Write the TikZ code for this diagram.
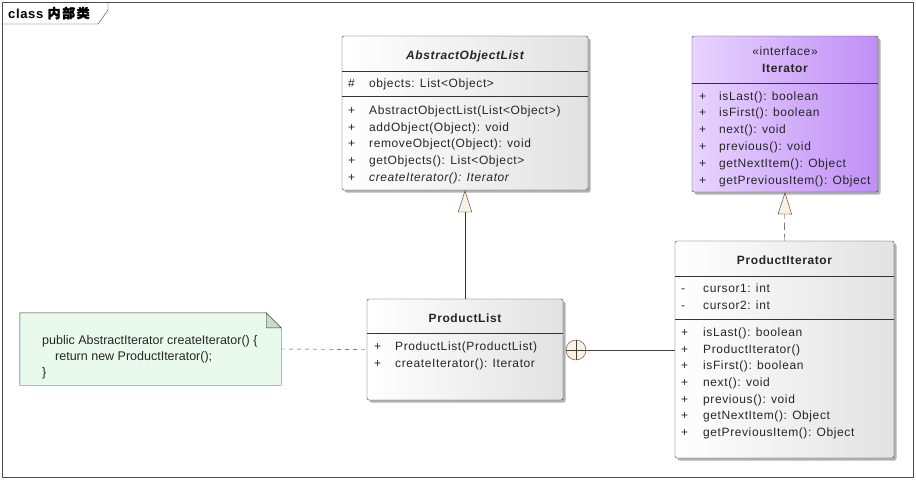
\documentclass[tikz,border=0pt]{standalone}
\usepackage{fontspec}
\setmainfont{Liberation Sans}
\newfontfamily\umlfont{Liberation Sans}[LetterSpace=5]
\newfontfamily\cjk{Noto Sans CJK SC}[FakeBold=1.5,LetterSpace=12]
\usetikzlibrary{arrows.meta,shadows}

\definecolor{boxgrey}{RGB}{226,226,226}
\definecolor{ifleft}{RGB}{232,212,255}
\definecolor{ifright}{RGB}{192,142,246}
\definecolor{notegreen}{RGB}{232,250,236}
\definecolor{notefold}{RGB}{200,220,206}
\definecolor{tipfill}{RGB}{252,240,224}

\tikzset{
  umlbox/.style={draw=black!80,rounded corners=2pt,left color=white,right color=boxgrey,
    drop shadow={shadow xshift=2.5pt,shadow yshift=-2.5pt,fill=black!30,opacity=1}},
  ifbox/.style={umlbox,left color=ifleft,right color=ifright},
  member/.style={anchor=base west,inner sep=0pt,text=black!85,font=\umlfont\fontsize{12}{14}\selectfont},
  title/.style={member,anchor=base,font=\umlfont\bfseries\fontsize{12}{14}\selectfont},
  notetext/.style={anchor=base west,inner sep=0pt,text=black!85,font=\fontsize{12.5}{15}\selectfont},
  genarrow/.style={-{Triangle[open,length=22pt,width=14pt,fill=tipfill]},black!80},
  nestmark/.style={circle,draw=black!75,fill=tipfill,minimum size=20pt,inner sep=0pt}
}

\begin{document}
\begin{tikzpicture}[x=1pt,y=-1pt]
  \useasboundingbox (0,0) rectangle (916,480);

  % frame
  \draw[black!70,line width=0.8pt] (2,2) rectangle (913,477);
  \draw[black!80] (108,2) -- (108,10) -- (98,24) -- (2,24);
  \node[anchor=base west,inner sep=0pt,font=\bfseries\umlfont\fontsize{13}{15}\selectfont] (frametitle)
    at (8,18) {class \cjk 内部类};

  % classes
  \node[umlbox,minimum width=246pt,minimum height=154pt] (aol) at (465,113) {};
  \node[ifbox,minimum width=186pt,minimum height=156pt] (iter) at (785,114) {};
  \node[umlbox,minimum width=219pt,minimum height=217pt] (pit) at (784.5,349.5) {};
  \node[umlbox,minimum width=196pt,minimum height=101pt] (pl) at (465,349.5) {};

  \draw[black!80]
    (342,71) -- (588,71)
    (342,96) -- (588,96)
    (692,83) -- (878,83)
    (675,276) -- (894,276)
    (675,319) -- (894,319)
    (367,333) -- (563,333);

  % AbstractObjectList
  \draw
    (465,59.5) node[title,font=\umlfont\bfseries\itshape\fontsize{12}{14}\selectfont] (aoltitle) {AbstractObjectList}
    (348,87.5) node[member] (aolv0) {\#}
    (369,87.5) node[member] (aola0) {objects: List<Object>}
    (348,114.5) node[member] (aolv1) {+}
    (369,114.5) node[member] (aolm1) {AbstractObjectList(List<Object>)}
    (348,131.5) node[member] (aolv2) {+}
    (369,131.5) node[member] (aolm2) {addObject(Object): void}
    (348,147.5) node[member] (aolv3) {+}
    (369,147.5) node[member] (aolm3) {removeObject(Object): void}
    (348,164.5) node[member] (aolv4) {+}
    (369,164.5) node[member] (aolm4) {getObjects(): List<Object>}
    (348,181.5) node[member] (aolv5) {+}
    (369,181.5) node[member,font=\umlfont\itshape\fontsize{12}{14}\selectfont] (aolm5) {createIterator(): Iterator};

  % Iterator
  \draw
    (785,55.5) node[member,anchor=base] (itstereo) {«interface»}
    (785,72.5) node[title] (ittitle) {Iterator}
    (699,100.5) node[member] (itv1) {+}
    (719,100.5) node[member] (itm1) {isLast(): boolean}
    (699,116.5) node[member] (itv2) {+}
    (719,116.5) node[member] (itm2) {isFirst(): boolean}
    (699,133.5) node[member] (itv3) {+}
    (719,133.5) node[member] (itm3) {next(): void}
    (699,150.5) node[member] (itv4) {+}
    (719,150.5) node[member] (itm4) {previous(): void}
    (699,167.5) node[member] (itv5) {+}
    (719,167.5) node[member] (itm5) {getNextItem(): Object}
    (699,184.5) node[member] (itv6) {+}
    (719,184.5) node[member] (itm6) {getPreviousItem(): Object};

  % ProductIterator
  \draw
    (784.5,264.5) node[title] (pittitle) {ProductIterator}
    (681,292.5) node[member] (pitv0) {-}
    (703,292.5) node[member] (pita0) {cursor1: int}
    (681,309.5) node[member] (pitv00) {-}
    (703,309.5) node[member] (pita00) {cursor2: int}
    (681,336.5) node[member] (pitv1) {+}
    (703,336.5) node[member] (pitm1) {isLast(): boolean}
    (681,353.5) node[member] (pitv2) {+}
    (703,353.5) node[member] (pitm2) {ProductIterator()}
    (681,369.5) node[member] (pitv3) {+}
    (703,369.5) node[member] (pitm3) {isFirst(): boolean}
    (681,386.5) node[member] (pitv4) {+}
    (703,386.5) node[member] (pitm4) {next(): void}
    (681,403.5) node[member] (pitv5) {+}
    (703,403.5) node[member] (pitm5) {previous(): void}
    (681,419.5) node[member] (pitv6) {+}
    (703,419.5) node[member] (pitm6) {getNextItem(): Object}
    (681,436.5) node[member] (pitv7) {+}
    (703,436.5) node[member] (pitm7) {getPreviousItem(): Object};

  % ProductList
  \draw
    (465,322.5) node[title] (pltitle) {ProductList}
    (374,350.5) node[member] (plv1) {+}
    (395,350.5) node[member] (plm1) {ProductList(ProductList)}
    (374,367.5) node[member] (plv2) {+}
    (395,367.5) node[member] (plm2) {createIterator(): Iterator};

  % note
  \node[minimum width=261pt,minimum height=72pt,inner sep=0pt] (note) at (150.5,349) {};
  \filldraw[draw=black!80,fill=notegreen]
    (note.north west) -- ([xshift=-15pt]note.north east) -- ([yshift=-15pt]note.north east)
    -- (note.south east) -- (note.south west) -- cycle;
  \filldraw[draw=black!80,fill=notefold]
    ([xshift=-15pt]note.north east) -- ([xshift=-15pt,yshift=-15pt]note.north east)
    -- ([yshift=-15pt]note.north east) -- cycle;
  \draw
    (42,344.5) node[notetext] (note1) {public AbstractIterator createIterator() \{}
    (55,360.5) node[notetext] (note2) {return new ProductIterator();}
    (42,376.5) node[notetext] (note3) {\}};

  % connectors
  \draw[black!75,dash pattern=on 4pt off 4pt] (note.east) -- (pl.west);
  \draw[genarrow] (pl.north) -- (aol.south);
  \draw[genarrow,dash pattern=on 7pt off 4pt] (pit.north) -- (iter.south);
  \node[nestmark] (nest) at (576,350) {};
  \draw[black!75] (nest.north) -- (nest.south) (nest.west) -- (nest.east);
  \draw[black!75] (nest.east) -- (pit.west |- nest.east);
\end{tikzpicture}
\end{document}
